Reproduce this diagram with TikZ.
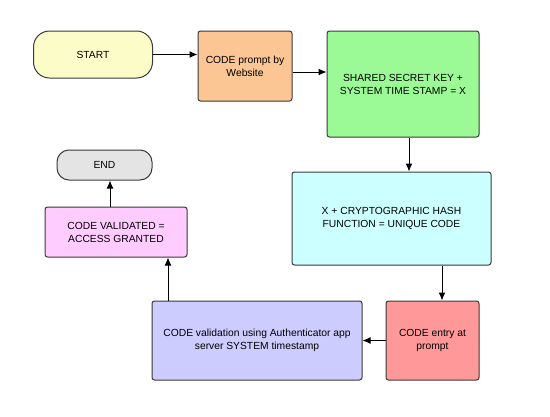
\documentclass[tikz,border=0pt]{standalone}
\usepackage{fontspec}
\setmainfont{Liberation Sans}
\usetikzlibrary{arrows.meta}
\definecolor{cstart}{HTML}{FCFCC8}
\definecolor{corange}{HTML}{FBC594}
\definecolor{cgreen}{HTML}{9CFA96}
\definecolor{ccyan}{HTML}{CCFFFF}
\definecolor{cred}{HTML}{FF9999}
\definecolor{cblue}{HTML}{CCCCFF}
\definecolor{cpink}{HTML}{FFCCFF}
\definecolor{cend}{HTML}{E4E4E4}
\definecolor{cborder}{HTML}{3A3A3A}
\begin{document}
\begin{tikzpicture}[x=1pt,y=-1pt,
  box/.style={draw=cborder,line width=1pt,rounded corners=2.5pt,align=center,
    font=\fontsize{10.3}{13}\selectfont,inner sep=0pt},
  term/.style={draw=cborder,line width=1pt,rounded corners=16pt,align=center,
    font=\fontsize{10.3}{13}\selectfont,inner sep=0pt},
  conn/.style={-{Latex[length=8pt,width=7pt]},line width=1pt,black}]
\useasboundingbox[fill=white] (0,0) rectangle (550,416);
\node[term,fill=cstart,minimum width=119pt,minimum height=47pt] (start) at (93,54.5) {START};
\node[box,fill=corange,minimum width=94pt,minimum height=70pt] (prompt) at (245,66) {CODE prompt by\\Website};
\node[box,fill=cgreen,minimum width=152pt,minimum height=106pt] (key) at (403,84) {SHARED SECRET KEY +\\SYSTEM TIME STAMP = X};
\node[box,fill=ccyan,minimum width=199pt,minimum height=93pt] (hash) at (391.5,218.5) {X + CRYPTOGRAPHIC HASH\\FUNCTION = UNIQUE CODE};
\node[box,fill=cred,minimum width=93pt,minimum height=79pt] (entry) at (432.5,340.5) {CODE entry at\\prompt};
\node[box,fill=cblue,minimum width=210pt,minimum height=79pt] (valid) at (257,340.5) {CODE validation using Authenticator app\\server SYSTEM timestamp};
\node[box,fill=cpink,minimum width=142pt,minimum height=50pt] (granted) at (116,232) {CODE VALIDATED =\\ACCESS GRANTED};
\node[term,fill=cend,minimum width=95pt,minimum height=30pt,rounded corners=12pt] (end) at (104.5,165) {END};
\coordinate (a1) at (prompt.west |- start.east);
\draw[conn] (start.east) -- (a1);
\draw[conn] (prompt.east |- 0,72) -- (key.west |- 0,72);
\draw[conn] (key.south -| 409,0) -- (hash.north -| 409,0);
\draw[conn] (hash.south -| 442,0) -- (entry.north -| 442,0);
\draw[conn] (entry.west) -- (valid.east);
\draw[conn] (valid.north -| 168,0) -- (granted.south -| 168,0);
\draw[conn] (granted.north -| 110,0) -- (end.south -| 110,0);
\end{tikzpicture}
\end{document}
